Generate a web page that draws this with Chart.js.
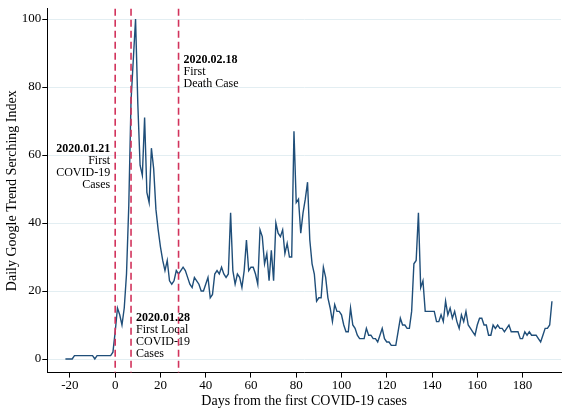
<!DOCTYPE html>
<html><head><meta charset="utf-8">
<script src="https://cdn.jsdelivr.net/npm/chart.js@4"></script>
<style>html,body{margin:0;padding:0;background:#fff}#w{width:563px;height:410px}</style>
</head><body><div id="w"><canvas id="c"></canvas></div>
<script>
const startDay = -22;
const values = [0,0,0,0, 1,1,1,1,1,1,1,1,1, 0, 1,1,1,1,1,1,1, 2,
8,15,13,10,15,25,45,76,88,100,75,57,54,71,49,46,62,56,44,38,
33,29,26,29,23,22,23,26,25,26,27,26,24,22,21,24,23,22,20,20,
22,24,18,19,25,26,25,27,25,24,25,43,26,22,25,24,21,26,35,26,
27,27,25,22,38,36,28,31,23,32,23,40,37,36,38,31,34,30,30,67,
46,47,37,43,47,52,35,28,25,17,18,18,27,24,18,15,11,16,14,14,
13,10,8,8,15,10,9,7,6,6,6,9,7,7,6,6,5,7,9,6,
5,5,4,4,4,8,12,10,10,9,9,14,28,29,43,21,23,14,14,14,
14,14,11,11,13,11,17,13,15,12,14,11,9,13,11,14,10,9,8,7,
10,12,12,10,10,7,7,10,9,10,9,9,8,9,10,8,8,8,8,6,
6,8,7,8,7,7,7,6,5,7,9,9,10,17];
const days = values.map((v,i)=>startDay+i);
const eventDays = [0, 7, 28];
const eventLabels = [
  {title:"2020.01.21", lines:["First","COVID-19","Cases"], align:"right", dx:-5, y:149},
  {title:"2020.01.28", lines:["First Local","COVID-19","Cases"], align:"left", dx:5, y:318},
  {title:"2020.02.18", lines:["First","Death Case"], align:"left", dx:5, y:60}
];
const xTicks = [-20,0,20,40,60,80,100,120,140,160,180];
const yTicks = [0,20,40,60,80,100];
const F = "'Liberation Serif', 'Times New Roman', serif";

const eventPlugin = {
  id:'events',
  afterDatasetsDraw(chart){
    const {ctx, scales:{x}, chartArea:a} = chart;
    ctx.save();
    ctx.strokeStyle = '#d2335c'; ctx.lineWidth = 1.6; ctx.setLineDash([7,4]);
    eventDays.forEach(d=>{const px=x.getPixelForValue(d);ctx.beginPath();ctx.moveTo(px,a.top);ctx.lineTo(px,a.bottom);ctx.stroke();});
    ctx.setLineDash([]);
    ctx.fillStyle = '#000'; ctx.textBaseline='middle';
    eventLabels.forEach((l,i)=>{
      const px = x.getPixelForValue(eventDays[i]) + l.dx;
      ctx.textAlign = l.align;
      ctx.font = "bold 12px "+F; ctx.fillText(l.title, px, l.y);
      ctx.font = "12px "+F;
      l.lines.forEach((t,j)=>ctx.fillText(t, px, l.y+12*(j+1)));
    });
    ctx.restore();
  }
};

new Chart(document.getElementById('c'), {
  type:'line',
  data:{datasets:[{data:days.map((d,i)=>({x:d,y:values[i]})), borderColor:'#1f4e79', borderWidth:1.4, pointRadius:0, tension:0}]},
  options:{
    responsive:true, maintainAspectRatio:false, animation:false,
    layout:{padding:{top:7,right:2,left:4,bottom:0}},
    plugins:{legend:{display:false}, tooltip:{enabled:false}},
    scales:{
      x:{type:'linear', min:-30, max:197,
        afterBuildTicks(s){s.ticks = xTicks.map(v=>({value:v}));},
        grid:{display:true, drawOnChartArea:false, tickColor:'#000', tickLength:5},
        border:{color:'#000'},
        ticks:{color:'#000', font:{family:F,size:13}, padding:0},
        title:{display:true, text:'Days from the first COVID-19 cases', color:'#000', font:{family:F,size:14}, padding:{top:0,bottom:0}}
      },
      y:{min:-4, max:103,
        afterBuildTicks(s){s.ticks = yTicks.map(v=>({value:v}));},
        grid:{color:'#e3eef2', tickColor:'#000', tickLength:5},
        border:{color:'#000'},
        ticks:{color:'#000', font:{family:F,size:13}, padding:1},
        title:{display:true, text:'Daily Google Trend Serching Index', color:'#000', font:{family:F,size:14}, padding:{top:0,bottom:0}}
      }
    }
  },
  plugins:[eventPlugin]
});
</script></body></html>
